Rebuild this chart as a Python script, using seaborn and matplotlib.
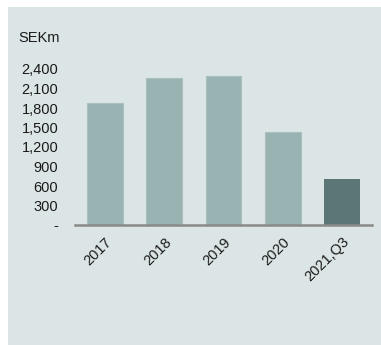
import matplotlib
matplotlib.use("Agg")
import matplotlib.pyplot as plt
from matplotlib.patches import Rectangle
import seaborn as sns
import pandas as pd

# Annual figures in SEKm
periods = ["2017", "2018", "2019", "2020", "2021,Q3"]
values = [1875, 2255, 2295, 1430, 710]
y_ticks = [0, 300, 600, 900, 1200, 1500, 1800, 2100, 2400]
y_tick_labels = ["-", "300", "600", "900", "1,200", "1,500", "1,800", "2,100", "2,400"]
unit_label = "SEKm"

bg = "#dce5e6"
light_bar = "#99b3b2"
dark_bar = "#5b7775"

sns.set_theme(style="white")
plt.rcParams["font.family"] = ["Liberation Sans", "DejaVu Sans"]

df = pd.DataFrame({"period": periods, "value": values})

fig = plt.figure(figsize=(3.81, 3.45), dpi=100, facecolor="white")
fig.patches.append(Rectangle((8 / 381, 0), 1 - 8 / 381, 1 - 7 / 345,
                             transform=fig.transFigure, facecolor=bg,
                             edgecolor="none", zorder=-10))

ax = fig.add_axes([75 / 381, 1 - 225 / 345, (372 - 75) / 381, (225 - 69) / 345])
ax.set_facecolor("none")

colors = [light_bar] * (len(periods) - 1) + [dark_bar]
sns.barplot(data=df, x="period", y="value", hue="period", palette=colors,
            legend=False, width=0.6, ax=ax, saturation=1, linewidth=0)

# faint lighter outline on the light bars
for patch, c in zip(ax.patches, colors):
    if c == light_bar:
        patch.set_edgecolor("#a9c0bf")
        patch.set_linewidth(0.8)

ax.set_xlim(-0.5, len(periods) - 0.5)
ax.set_ylim(0, 2400)
ax.set_yticks(y_ticks)
ax.set_yticklabels(y_tick_labels, fontsize=10.5, color="#1a1a1a")
ax.set_xlabel("")
ax.set_ylabel("")
ax.tick_params(axis="y", length=0, pad=12)
ax.tick_params(axis="x", length=0, pad=7)
for lbl in ax.get_xticklabels():
    lbl.set_rotation(45)
    lbl.set_ha("right")
    lbl.set_rotation_mode("anchor")
    lbl.set_fontsize(10.5)
    lbl.set_color("#1a1a1a")

for side in ["top", "right", "left"]:
    ax.spines[side].set_visible(False)
ax.spines["bottom"].set_color("#8a8a8a")
ax.spines["bottom"].set_linewidth(1.8)

fig.text(18 / 381, 1 - 38 / 345, unit_label, fontsize=10.5, color="#1a1a1a",
         va="center", ha="left")

fig.savefig("out.png", dpi=100, facecolor="white")
